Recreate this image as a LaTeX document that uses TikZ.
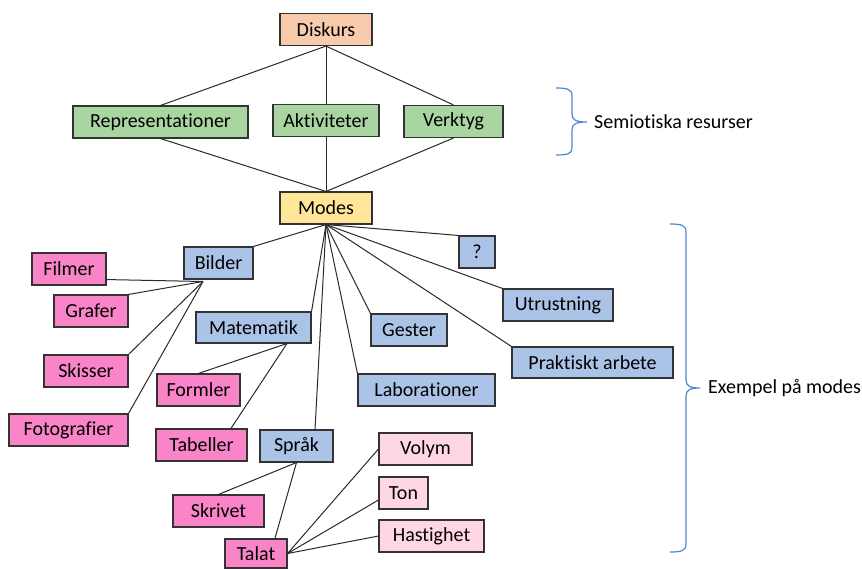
\documentclass[tikz,border=0pt]{standalone}
\usepackage{fontspec}
\setmainfont{Carlito}[Ligatures=NoCommon]
\usetikzlibrary{calc}
\definecolor{cDisk}{HTML}{F8CBAD}
\definecolor{cGreen}{HTML}{A9D5A0}
\definecolor{cYellow}{HTML}{FFE699}
\definecolor{cBlue}{HTML}{ABC3E6}
\definecolor{cPink}{HTML}{F984C8}
\definecolor{cLight}{HTML}{FFD6E4}
\definecolor{cBrace}{HTML}{4F86D0}
\definecolor{cEdge}{HTML}{2A2A2A}
\tikzset{
  box/.style={draw=black!80, line width=1.1pt, minimum height=32pt, inner sep=0pt,
    font=\fontsize{20}{24}\selectfont},
  disk/.style={box, fill=cDisk},
  green/.style={box, fill=cGreen},
  yell/.style={box, fill=cYellow},
  blue/.style={box, fill=cBlue},
  pink/.style={box, fill=cPink},
  lpink/.style={box, fill=cLight},
  edge/.style={draw=cEdge, line width=1pt},
  bracestyle/.style={draw=cBrace, line width=1.2pt},
  lbl/.style={anchor=west, inner sep=0pt, font=\fontsize{20}{24}\selectfont}
}
\begin{document}
\begin{tikzpicture}[x=1pt,y=-1pt]
\useasboundingbox[fill=white] (0,0) rectangle (862,568);
% top level
\node[disk, minimum width=92pt] (diskurs) at (326,29.5) {Diskurs};
\node[green, minimum width=175pt] (repr) at (160.5,122) {Representationer};
\node[green, minimum width=106pt] (akt) at (326,120.5) {Aktiviteter};
\node[green, minimum width=99pt] (verk) at (453.5,121.5) {Verktyg};
\node[yell, minimum width=92pt] (modes) at (326,208) {Modes};
% modes
\node[blue, minimum width=69pt] (bilder) at (218.5,263) {Bilder};
\node[blue, minimum width=115pt, minimum height=31pt] (mat) at (253.5,327.5) {Matematik};
\node[blue, minimum width=73pt] (sprak) at (296.5,446) {Språk};
\node[blue, minimum width=76pt] (gester) at (409,330) {Gester};
\node[blue, minimum width=137pt] (lab) at (426.5,390) {Laborationer};
\node[blue, minimum width=36pt] (q) at (477,252) {?};
\node[blue, minimum width=110pt] (utr) at (558,305) {Utrustning};
\node[blue, minimum width=161pt, minimum height=31pt] (prakt) at (592.5,362.5) {Praktiskt arbete};
% bilder children
\node[pink, minimum width=74pt] (filmer) at (69,269) {Filmer};
\node[pink, minimum width=74pt] (grafer) at (91,311) {Grafer};
\node[pink, minimum width=84pt] (skisser) at (86,371) {Skisser};
\node[pink, minimum width=119pt] (foto) at (68.5,430) {Fotografier};
% matematik children
\node[pink, minimum width=83pt] (formler) at (198.5,390) {Formler};
\node[pink, minimum width=91pt] (tabeller) at (201.5,445) {Tabeller};
% sprak children
\node[pink, minimum width=91pt] (skrivet) at (218.5,511) {Skrivet};
\node[pink, minimum width=62pt, minimum height=29pt] (talat) at (256,553.5) {Talat};
% talat children
\node[lpink, minimum width=93pt] (volym) at (425.5,449) {Volym};
\node[lpink, minimum width=49pt] (ton) at (403.5,493) {Ton};
\node[lpink, minimum width=105pt] (hast) at (431.5,536) {Hastighet};
% hubs
\coordinate (bhub) at (203,281.5);
\coordinate (mhub) at (287,343.5);
% edges top
\draw[edge] (diskurs.south) -- (repr.north);
\draw[edge] (diskurs.south) -- (akt.north);
\draw[edge] (diskurs.south) -- (verk.north);
\draw[edge] (repr.south) -- (modes.north);
\draw[edge] (akt.south) -- (modes.north);
\draw[edge] (verk.south) -- (modes.north);
% modes edges
\draw[edge] (modes.south) -- (bilder.north east);
\draw[edge] (modes.south) -- (mat.north east);
\draw[edge] (modes.south) -- ($(sprak.north west)!0.75!(sprak.north east)$);
\draw[edge] (modes.south) -- (gester.north west);
\draw[edge] (modes.south) -- (lab.north west);
\draw[edge] (modes.south) -- (q.north west);
\draw[edge] (modes.south) -- (utr.north west);
\draw[edge] (modes.south) -- (prakt.north west);
% bilder
\draw[edge] (bhub) -- ($(filmer.south east)+(0,-6)$);
\draw[edge] (bhub) -- (grafer.north east);
\draw[edge] (bhub) -- (skisser.north east);
\draw[edge] (bhub) -- (foto.north east);
% matematik
\draw[edge] (mhub) -- (formler.north);
\draw[edge] (mhub) -- ($(tabeller.north west)!0.82!(tabeller.north east)$);
% sprak
\draw[edge] (sprak.south) -- (skrivet.north);
\draw[edge] (sprak.south) -- ($(talat.north west)!0.8!(talat.north east)$);
% talat
\draw[edge] (talat.east) -- (volym.west);
\draw[edge] (talat.east) -- ($(ton.west)+(0,7)$);
\draw[edge] (talat.east) -- (hast.west);
% braces
\draw[bracestyle] (556,88) .. controls (567,88) and (572,89) .. (572,96) -- (572,114)
  .. controls (572,120) and (576,122) .. (587,122)
  .. controls (576,122) and (572,124) .. (572,130) -- (572,148)
  .. controls (572,154) and (567,155) .. (556,155);
\node[lbl] (sem) at (594,122) {Semiotiska resurser};
\draw[bracestyle] (670,224) .. controls (681,224) and (686,225) .. (686,232) -- (686,380)
  .. controls (686,386) and (690,388) .. (700,388)
  .. controls (690,388) and (686,390) .. (686,396) -- (686,544)
  .. controls (686,551) and (681,552) .. (670,552);
\node[lbl] (ex) at (708,388) {Exempel på modes};
\end{tikzpicture}
\end{document}
